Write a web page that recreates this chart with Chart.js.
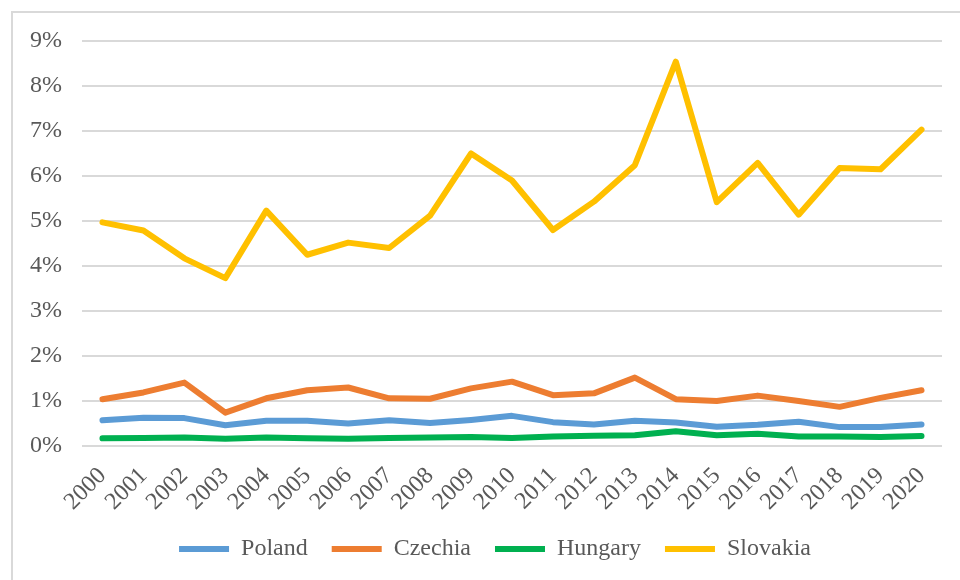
<!DOCTYPE html>
<html>
<head>
<meta charset="utf-8">
<script src="https://cdn.jsdelivr.net/npm/chart.js@4.4.0/dist/chart.umd.min.js"></script>
<style>
  html, body { margin: 0; padding: 0; background: #fff; }
  #wrap { position: relative; width: 960px; height: 580px; }
  #frame { position: absolute; left: 11px; top: 11px; right: 0; bottom: 0;
           border-left: 2px solid #d9d9d9; border-top: 2px solid #d9d9d9; }
  canvas { position: absolute; left: 0; top: 0; }
</style>
</head>
<body>
<div id="wrap">
  <div id="frame"></div>
  <canvas id="chartLine" width="960" height="580"></canvas>
</div>
<script>
// years on the x axis
const years = ["2000", "2001", "2002", "2003", "2004", "2005", "2006", "2007", "2008", "2009", "2010",
    "2011", "2012", "2013", "2014", "2015", "2016", "2017", "2018", "2019", "2020"];

// values in percent
const poland = [0.57, 0.63, 0.62, 0.46, 0.56, 0.56, 0.50, 0.57, 0.51, 0.58, 0.67,
    0.53, 0.48, 0.56, 0.52, 0.43, 0.47, 0.54, 0.42, 0.42, 0.48];
const czechia = [1.04, 1.19, 1.41, 0.74, 1.06, 1.24, 1.30, 1.06, 1.05, 1.28, 1.43,
    1.13, 1.17, 1.52, 1.04, 1.00, 1.12, 1.00, 0.87, 1.07, 1.24];
const hungary = [0.17, 0.18, 0.19, 0.16, 0.19, 0.17, 0.16, 0.18, 0.19, 0.20, 0.18,
    0.21, 0.23, 0.24, 0.33, 0.24, 0.27, 0.21, 0.21, 0.20, 0.22];
const slovakia = [4.97, 4.79, 4.17, 3.73, 5.23, 4.25, 4.52, 4.40, 5.12, 6.50, 5.90,
    4.80, 5.43, 6.24, 8.54, 5.42, 6.29, 5.14, 6.18, 6.15, 7.03];

const yTicks = [0, 1, 2, 3, 4, 5, 6, 7, 8, 9];

const textColor = "#595959";
const gridColor = "#d9d9d9";
const fontFamily = "'Liberation Serif', 'Times New Roman', serif";

function series(label, values, color) {
    return {
        label: label,
        data: values,
        borderColor: color,
        backgroundColor: color,
        borderWidth: 6,
        borderCapStyle: "round",
        borderJoinStyle: "round",
        pointRadius: 0,
        pointHoverRadius: 0,
        tension: 0,
        fill: false,
    };
}

// the legend sits a bit right of the plot centre
const legendShift = {
    id: "legendShift",
    afterLayout(chart) {
        chart.legend.left += 18;
        chart.legend.right += 18;
    },
};

const dataLine = {
    labels: years,
    datasets: [
        series("Poland", poland, "#5b9bd5"),
        series("Czechia", czechia, "#ed7d31"),
        series("Hungary", hungary, "#00b050"),
        series("Slovakia", slovakia, "#ffc000"),
    ],
};

const configLine = {
    type: "line",
    data: dataLine,
    plugins: [legendShift],
    options: {
        responsive: false,
        animation: false,
        layout: { padding: { left: 12, right: 18, top: 41, bottom: 9 } },
        plugins: {
            tooltip: { enabled: false },
            legend: {
                position: "bottom",
                labels: {
                    usePointStyle: true,
                    pointStyle: "line",
                    pointStyleWidth: 50,
                    padding: 24,
                    color: textColor,
                    font: { family: fontFamily, size: 24 },
                },
            },
        },
        scales: {
            x: {
                offset: true,
                grid: { display: false, drawTicks: false },
                border: { display: false },
                ticks: {
                    autoSkip: false,
                    maxRotation: 45,
                    minRotation: 45,
                    padding: 16,
                    color: textColor,
                    font: { family: fontFamily, size: 24 },
                },
                afterFit: function(scale) { scale.height = 67; },
            },
            y: {
                min: 0,
                max: 9,
                afterBuildTicks: function(scale) {
                    scale.ticks = yTicks.map(v => ({ value: v }));
                },
                grid: { color: gridColor, lineWidth: 2, drawTicks: false },
                border: { display: false },
                ticks: {
                    padding: 20,
                    color: textColor,
                    font: { family: fontFamily, size: 24 },
                    callback: v => v + "%",
                },
                afterFit: function(scale) { scale.width = 70; },
            },
        },
    },
};

var chartLine = new Chart(
    document.getElementById("chartLine"),
    configLine
);
</script>
</body>
</html>
